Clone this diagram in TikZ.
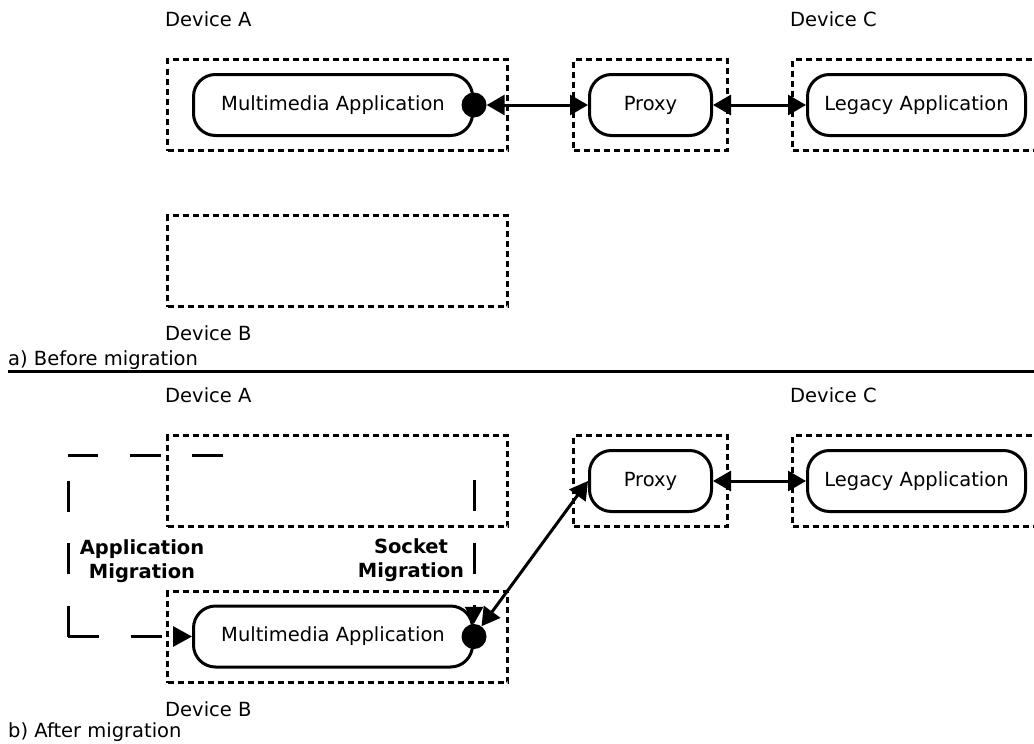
\documentclass[tikz,border=0pt]{standalone}
\usepackage{fontspec}
\setmainfont{DejaVu Sans}
\usetikzlibrary{arrows.meta}
\begin{document}
\begin{tikzpicture}[x=1pt,y=-1pt,
  txt/.style={font=\fontsize{19.5}{24}\selectfont},
  caption/.style={txt, anchor=base west, inner sep=0pt},
  device/.style={draw, line width=3pt, dash pattern=on 6pt off 4pt,
    minimum height=91pt, inner sep=0pt},
  app/.style={txt, draw, line width=3pt, rounded corners=22pt,
    minimum height=61pt, inner sep=0pt},
  socket/.style={circle, fill, inner sep=0pt, minimum size=25pt},
  tip/.style={Triangle[length=18pt,width=20pt]},
  link/.style={line width=3pt, {Triangle[length=18pt,width=20pt]}-{Triangle[length=18pt,width=20pt]}},
  migration/.style={line width=3pt, dash pattern=on 31pt off 31.5pt},
  miglabel/.style={txt, font=\fontsize{19.5}{24}\selectfont\bfseries, align=center, inner sep=0pt},
]
\useasboundingbox (0,0) rectangle (1034,744);
\clip (0,0) rectangle (1034,744);

% ---------- a) before migration ----------
\node[caption] (devAa) at (165,27) {Device A};
\node[caption] (devCa) at (790,27) {Device C};
\node[device, minimum width=340pt] (boxAa) at (337.5,105) {};
\node[device, minimum width=153.5pt] (boxPa) at (650.25,105) {};
\node[device, minimum width=249pt] (boxCa) at (917,105) {};
\node[device, minimum width=340pt] (boxBa) at (337.5,261) {};
\node[caption] (devBa) at (165,340) {Device B};

\node[app, minimum width=279pt] (mmA) at (333,105) {Multimedia Application};
\node[app, minimum width=122pt] (proxyA) at (650.5,105) {Proxy};
\node[app, minimum width=218pt] (legacyA) at (916.5,105) {Legacy Application};
\node[socket] (dotA) at (mmA.east) {};

\draw[link] (dotA) -- (proxyA);
\draw[link] (proxyA) -- (legacyA);

\node[caption] (capA) at (8,365) {a) Before migration};
\draw[line width=3pt] (8,371) -- (1034,371);

% ---------- b) after migration ----------
\node[caption] (devAb) at (165,402) {Device A};
\node[caption] (devCb) at (790,402) {Device C};
\node[device, minimum width=340pt] (boxAb) at (337.5,481) {};
\node[device, minimum width=153.5pt] (boxPb) at (650.25,481) {};
\node[device, minimum width=249pt] (boxCb) at (917,481) {};
\node[device, minimum width=340pt] (boxBb) at (337.5,637) {};
\node[caption] (devBb) at (165,716) {Device B};

\node[app, minimum width=279pt] (mmB) at (333,636.5) {Multimedia Application};
\node[app, minimum width=122pt] (proxyB) at (650.5,481) {Proxy};
\node[app, minimum width=218pt] (legacyB) at (916.5,481) {Legacy Application};
\node[socket] (dotB) at (mmB.east) {};

\draw[link] (dotB) -- (proxyB.west);
\draw[link] (proxyB) -- (legacyB);

% application migration: dashed route around the left side
\coordinate (appstart) at (223,455);
\coordinate (appcornerA) at (68,455);
\coordinate (appcornerB) at (68,636.5);
\draw[migration] (appstart) -- (appcornerA);
\draw[migration] (appcornerB) -- (appcornerA);
\draw[migration, -{Triangle[length=19pt,width=20pt]}] (appcornerB) -- (mmB.west);

% socket migration: dashed drop onto the socket
\coordinate (sockstart) at (474,480);
\draw[migration, -{Triangle[length=17pt,width=18pt]}] (sockstart) -- (dotB.north);

\node[miglabel] (applbl) at (142,561) {Application\\Migration};
\node[miglabel] (socklbl) at (411,560) {Socket\\Migration};

\node[caption] (capB) at (8,737) {b) After migration};
\end{tikzpicture}
\end{document}
